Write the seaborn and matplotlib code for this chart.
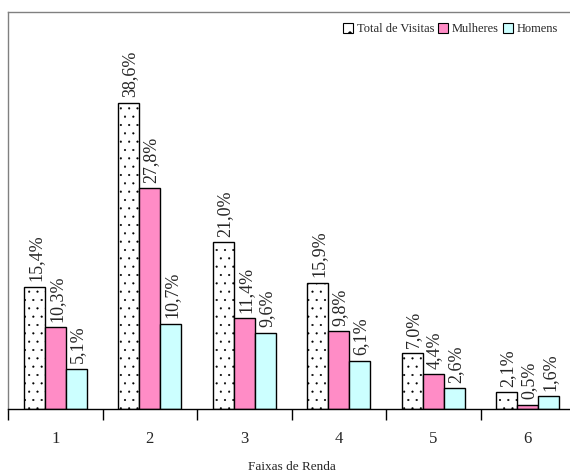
import matplotlib
matplotlib.use("Agg")
import matplotlib.pyplot as plt
import seaborn as sns
import pandas as pd
import numpy as np

# Income brackets and share of visits (%)
faixas = ["1", "2", "3", "4", "5", "6"]
total_visitas = [15.4, 38.6, 21.0, 15.9, 7.0, 2.1]
mulheres = [10.3, 27.8, 11.4, 9.8, 4.4, 0.5]
homens = [5.1, 10.7, 9.6, 6.1, 2.6, 1.6]
series = ["Total de Visitas", "Mulheres", "Homens"]

df = pd.DataFrame({
    "Faixa": faixas * 3,
    "Serie": [series[0]] * 6 + [series[1]] * 6 + [series[2]] * 6,
    "Valor": total_visitas + mulheres + homens,
})

sns.set_theme(style="white")
plt.rcParams["font.family"] = ["Liberation Serif", "DejaVu Serif"]
plt.rcParams["hatch.linewidth"] = 0.3
plt.rcParams["hatch.color"] = "#444444"

cores = {"Total de Visitas": "#FFFFFF", "Mulheres": "#FF8CC6", "Homens": "#CCFFFF"}

fig = plt.figure(figsize=(5.70, 4.76), dpi=100)
ax = fig.add_axes([8 / 570, 1 - 409 / 476, 567 / 570, (409 - 12) / 476])

sns.barplot(data=df, x="Faixa", y="Valor", hue="Serie", hue_order=series,
            palette=cores, width=0.667, edgecolor="black", linewidth=1.0,
            saturation=1, ax=ax)

# dotted fill for the total series
for bar in ax.containers[0]:
    bar.set_hatch("..")

for cont in ax.containers:
    for bar in cont:
        h = bar.get_height()
        ax.annotate(f"{h:.1f}".replace(".", ",") + "%",
                    (bar.get_x() + bar.get_width() / 2, h),
                    xytext=(1, 4), textcoords="offset points",
                    rotation=90, ha="center", va="bottom", fontsize=13)

ax.set_ylim(0, 50)
ax.set_xlim(-0.5, 5.5)
ax.set_yticks([])
ax.set_ylabel("")
ax.set_xlabel("Faixas de Renda", fontsize=9.5, labelpad=10)
ax.set_xticks(range(6))
ax.set_xticklabels(faixas, fontsize=12)
ax.set_xticks(np.arange(-0.5, 6.0, 1.0), minor=True)
ax.tick_params(axis="x", which="major", length=0, pad=16)
ax.tick_params(axis="x", which="minor", length=8, width=1, color="black",
               direction="out", bottom=True)

for side in ["left", "top", "right"]:
    ax.spines[side].set_color("#808080")
    ax.spines[side].set_linewidth(1)
ax.spines["bottom"].set_color("black")
ax.spines["bottom"].set_linewidth(1)

leg = ax.legend(loc="upper right", bbox_to_anchor=(555 / 567, 0.985), ncol=3,
                frameon=False, fontsize=9, handlelength=0.8, handleheight=0.8,
                handletextpad=0.3, columnspacing=0.3, borderaxespad=0)
for h in leg.legend_handles:
    h.set_edgecolor("black")
    h.set_linewidth(0.8)
leg.legend_handles[0].set_hatch(".")

fig.savefig("out.png", dpi=100)
